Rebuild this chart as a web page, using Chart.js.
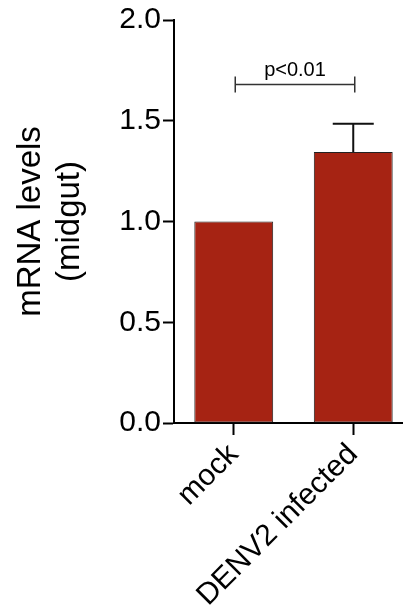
<!DOCTYPE html>
<html>
<head>
<meta charset="utf-8">
<script src="https://cdn.jsdelivr.net/npm/chart.js@4.4.1/dist/chart.umd.min.js"></script>
<style>
html,body{margin:0;padding:0;background:#fff;overflow:hidden;}
#wrap{width:403px;height:613px;position:relative;overflow:hidden;}
canvas{display:block;}
</style>
</head>
<body>
<div id="wrap"><canvas id="c" width="413" height="613"></canvas></div>
<script>
const categories = ['mock', 'DENV2 infected'];
const meanValues = [1.0, 1.345];
const upperErrors = [0, 0.14];
const yTicks = [0, 0.5, 1.0, 1.5, 2.0];
const sigPair = [0, 1];
const sigLevel = [1.68];
const sigLabel = ['p<0.01'];
const yTitle = ['mRNA levels', '(midgut)'];

const FONT = '"Liberation Sans", Arial, Helvetica, sans-serif';

const annotate = {
  id: 'annotate',
  afterDatasetsDraw(chart) {
    const ctx = chart.ctx;
    const x = chart.scales.x, y = chart.scales.y;
    const meta = chart.getDatasetMeta(0);
    ctx.save();
    ctx.strokeStyle = '#111';
    ctx.lineWidth = 2;
    meta.data.forEach((bar, i) => {
      const e = upperErrors[i];
      if (!e) return;
      const cx = bar.x;
      const top = y.getPixelForValue(meanValues[i] + e);
      const base = y.getPixelForValue(meanValues[i]);
      const half = bar.width * 0.26;
      ctx.beginPath();
      ctx.moveTo(cx, base);
      ctx.lineTo(cx, top);
      ctx.moveTo(cx - half, top);
      ctx.lineTo(cx + half, top);
      ctx.stroke();
    });
    const x1 = x.getPixelForValue(sigPair[0]) + 1.5;
    const x2 = x.getPixelForValue(sigPair[1]) + 1.5;
    const yy = y.getPixelForValue(sigLevel[0]);
    ctx.strokeStyle = '#333';
    ctx.lineWidth = 1.5;
    ctx.beginPath();
    ctx.moveTo(x1, yy); ctx.lineTo(x2, yy);
    ctx.moveTo(x1, yy - 8); ctx.lineTo(x1, yy + 8);
    ctx.moveTo(x2, yy - 8); ctx.lineTo(x2, yy + 8);
    ctx.stroke();
    ctx.fillStyle = '#000';
    ctx.font = '20px ' + FONT;
    ctx.textAlign = 'center';
    ctx.textBaseline = 'alphabetic';
    ctx.fillText(sigLabel[0], (x1 + x2) / 2, yy - 8);
    ctx.restore();
  }
};

new Chart(document.getElementById('c'), {
  type: 'bar',
  data: {
    labels: categories,
    datasets: [{
      data: meanValues,
      backgroundColor: '#A62313',
      borderColor: '#222',
      borderWidth: 1,
      borderSkipped: false,
      barPercentage: 0.66,
      categoryPercentage: 1.0
    }]
  },
  options: {
    responsive: false,
    animation: false,
    devicePixelRatio: 1,
    layout: { padding: { top: 2, right: 0, left: 0, bottom: 0 } },
    plugins: { legend: { display: false }, tooltip: { enabled: false } },
    scales: {
      x: {
        offset: true,
        grid: { offset: false, drawOnChartArea: false, drawTicks: true, tickLength: 12, tickWidth: 2, tickColor: '#000' },
        border: { display: true, width: 2, color: '#000' },
        ticks: {
          color: '#000',
          font: { family: FONT, size: 30 },
          minRotation: 45,
          maxRotation: 45,
          padding: 2,
          autoSkip: false
        },
        afterFit(scale) { scale.height = 190; }
      },
      y: {
        min: 0,
        max: 2,
        afterBuildTicks(scale) { scale.ticks = yTicks.map(v => ({ value: v })); },
        grid: { drawOnChartArea: false, drawTicks: true, tickLength: 11, tickWidth: 2, tickColor: '#000' },
        border: { display: true, width: 2, color: '#000' },
        ticks: {
          color: '#000',
          font: { family: FONT, size: 30 },
          padding: 2,
          callback: v => Number(v).toFixed(1)
        },
        title: {
          display: true,
          text: yTitle,
          color: '#000',
          font: { family: FONT, size: 33, lineHeight: 1.2 },
          padding: { top: 11, bottom: 0 }
        },
        afterFit(scale) { scale.width = 174; }
      }
    }
  },
  plugins: [annotate]
});
</script>
</body>
</html>
